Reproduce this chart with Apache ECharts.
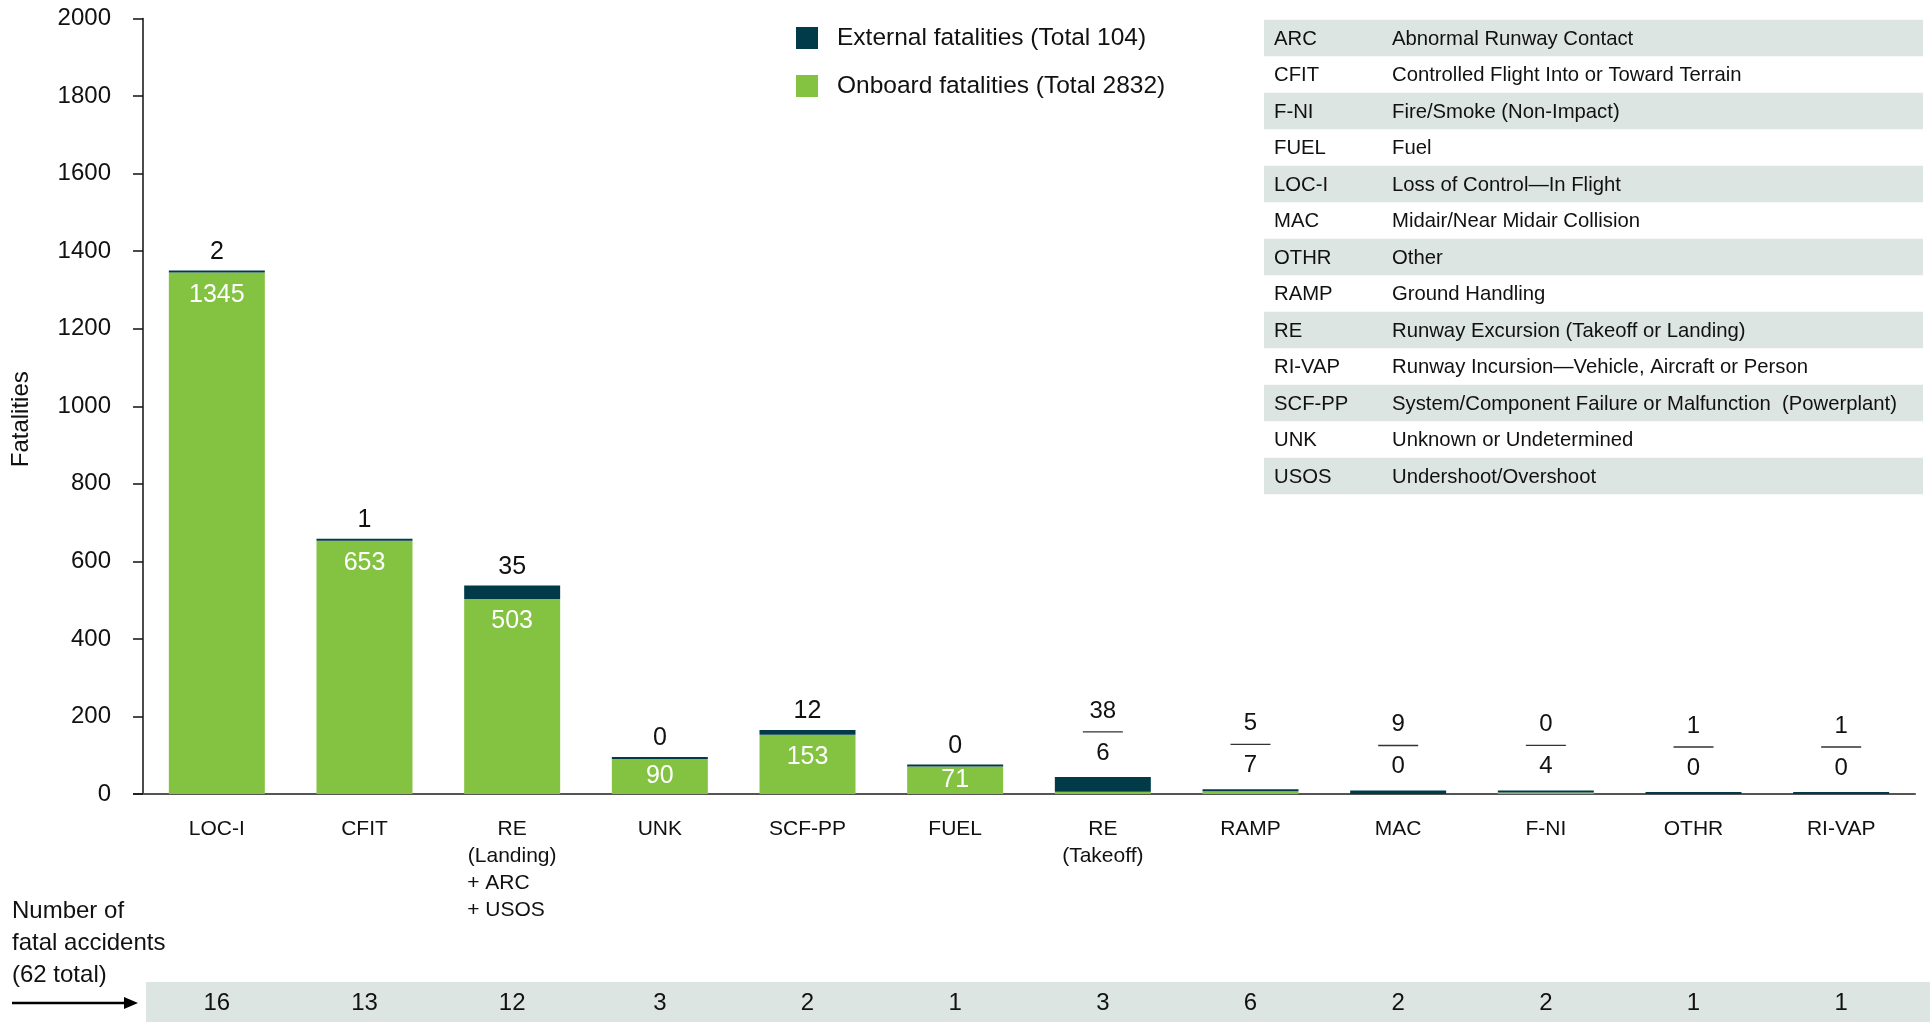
<!DOCTYPE html>
<html>
<head>
<meta charset="utf-8">
<script src="https://cdn.jsdelivr.net/npm/echarts@6/dist/echarts.min.js"></script>
<style>
  html, body { margin: 0; padding: 0; background: #fff; }
  #chart { width: 1930px; height: 1022px; }
</style>
</head>
<body>
<div id="chart"></div>
<script>
// Data
const categories = ['LOC-I', 'CFIT', 'RE\n(Landing)\n+ ARC\n+ USOS', 'UNK', 'SCF-PP', 'FUEL',
  'RE\n(Takeoff)', 'RAMP', 'MAC', 'F-NI', 'OTHR', 'RI-VAP'];
const onboard = [1345, 653, 503, 90, 153, 71, 6, 7, 0, 4, 0, 0];
const external = [2, 1, 35, 0, 12, 0, 38, 5, 9, 0, 1, 1];
const accidents = [16, 13, 12, 3, 2, 1, 3, 6, 2, 2, 1, 1];
const yTicks = [0, 200, 400, 600, 800, 1000, 1200, 1400, 1600, 1800, 2000];

const codes = ['ARC', 'CFIT', 'F-NI', 'FUEL', 'LOC-I', 'MAC', 'OTHR', 'RAMP', 'RE', 'RI-VAP', 'SCF-PP', 'UNK', 'USOS'];
const descriptions = ['Abnormal Runway Contact', 'Controlled Flight Into or Toward Terrain',
  'Fire/Smoke (Non-Impact)', 'Fuel', 'Loss of Control\u2014In Flight', 'Midair/Near Midair Collision',
  'Other', 'Ground Handling', 'Runway Excursion (Takeoff or Landing)',
  'Runway Incursion\u2014Vehicle, Aircraft or Person',
  'System/Component Failure or Malfunction  (Powerplant)', 'Unknown or Undetermined',
  'Undershoot/Overshoot'];

const FONT = '"Liberation Sans", Arial, sans-serif';
const GREEN = '#84c341';
const DARK = '#013b4a';
const SHADE = '#dde5e3';

const sum = a => a.reduce((s, v) => s + v, 0);
const extName = 'External fatalities (Total ' + sum(external) + ')';
const onName = 'Onboard fatalities (Total ' + sum(onboard) + ')';

// small bars get the "external / onboard" stacked label above them
const isSmall = i => onboard[i] + external[i] < 60;

const fracRich = {
  n: { fontFamily: FONT, fontSize: 24, lineHeight: 42, color: '#111', align: 'center' },
  hr: { width: 40, height: 0, borderWidth: 1.3, borderColor: '#333' }
};

const onboardData = onboard.map((v, i) => ({
  value: v,
  label: isSmall(i) ? { show: false } : {
    show: true,
    position: v < 100 ? 'inside' : 'insideTop',
    distance: 10,
    color: '#fff',
    fontSize: 25,
    fontFamily: FONT
  }
}));

const externalData = external.map((v, i) => ({
  value: v,
  label: isSmall(i) ? {
    show: true,
    position: 'top',
    distance: 3,
    formatter: '{n|' + v + '}\n{hr|}\n{n|' + onboard[i] + '}',
    rich: fracRich
  } : {
    show: true,
    position: 'top',
    distance: 6,
    color: '#111',
    fontSize: 25,
    fontFamily: FONT,
    formatter: String(v)
  }
}));

// definitions table on the right
const tableX = 1264, tableY = 19.7, tableW = 659, rowH = 36.5;
const tableGraphics = [];
codes.forEach((c, i) => {
  const y = tableY + i * rowH;
  if (i % 2 === 0) {
    tableGraphics.push({ type: 'rect', shape: { x: tableX, y: y, width: tableW, height: rowH },
      style: { fill: SHADE }, silent: true });
  }
  tableGraphics.push({ type: 'text', x: tableX + 10, y: y + rowH / 2 + 1,
    style: { text: c, font: '20.3px ' + FONT, fill: '#111', verticalAlign: 'middle' } });
  tableGraphics.push({ type: 'text', x: tableX + 128, y: y + rowH / 2 + 1,
    style: { text: descriptions[i], font: '20.3px ' + FONT, fill: '#111', verticalAlign: 'middle' } });
});

const myChart = echarts.init(document.getElementById('chart'));
myChart.setOption({
  animation: false,
  textStyle: { fontFamily: FONT },
  grid: { left: 143, right: 15, top: 18.5, bottom: 228, containLabel: false, outerBoundsMode: 'none' },
  legend: {
    orient: 'vertical',
    left: 796,
    top: 22,
    icon: 'rect',
    itemWidth: 22,
    itemHeight: 22,
    itemGap: 16,
    padding: 0,
    data: [extName, onName],
    textStyle: { fontSize: 24.5, color: '#111', fontFamily: FONT, lineHeight: 22, padding: [0, 0, 10, 14] }
  },
  xAxis: [{
    type: 'category',
    data: categories,
    axisLine: { lineStyle: { color: '#555', width: 2 } },
    axisTick: { show: false },
    axisLabel: {
      margin: 22,
      color: '#111',
      formatter: v => v.split('\n').map(s => (s.charAt(0) === '+' ? '{l|' + s + '}' : '{c|' + s + '}')).join('\n'),
      rich: {
        c: { fontFamily: FONT, fontSize: 21, lineHeight: 27, width: 90, align: 'center', color: '#111' },
        l: { fontFamily: FONT, fontSize: 21, lineHeight: 27, width: 90, align: 'left', color: '#111' }
      }
    }
  }, {
    type: 'category',
    position: 'bottom',
    offset: 209,
    data: accidents.map(String),
    axisLine: { show: false },
    axisTick: { show: false },
    axisLabel: { margin: 0, verticalAlign: 'middle', fontSize: 24, color: '#111', fontFamily: FONT }
  }],
  yAxis: {
    type: 'value',
    min: yTicks[0],
    max: yTicks[yTicks.length - 1],
    interval: yTicks[1] - yTicks[0],
    name: 'Fatalities',
    nameLocation: 'middle',
    nameRotate: 90,
    nameGap: 110,
    nameTextStyle: { fontSize: 24, color: '#111', fontFamily: FONT, padding: [0, 26, 0, 0] },
    axisLine: { show: true, lineStyle: { color: '#111', width: 1.5 } },
    axisTick: { show: true, length: 10, lineStyle: { color: '#111', width: 1.5 } },
    axisLabel: { fontSize: 24, color: '#111', margin: 32, fontFamily: FONT, formatter: v => String(v) },
    splitLine: { show: false }
  },
  series: [{
    name: onName,
    type: 'bar',
    stack: 'total',
    barCategoryGap: '35%',
    itemStyle: { color: GREEN },
    data: onboardData
  }, {
    name: extName,
    type: 'bar',
    stack: 'total',
    barCategoryGap: '35%',
    barMinHeight: 2,
    itemStyle: { color: DARK },
    data: externalData
  }],
  graphic: tableGraphics.concat([
    { type: 'rect', shape: { x: 146, y: 982, width: 1784, height: 40 }, style: { fill: SHADE }, z: -1, silent: true },
    { type: 'line', shape: { x1: 133, y1: 794, x2: 143, y2: 794 }, style: { stroke: '#555', lineWidth: 2 } },
    { type: 'text', x: 12, y: 895,
      style: { text: 'Number of\nfatal accidents\n(' + sum(accidents) + ' total)', font: '24px ' + FONT,
        fill: '#111', lineHeight: 32 } },
    { type: 'line', shape: { x1: 12, y1: 1003, x2: 126, y2: 1003 }, style: { stroke: '#000', lineWidth: 2.5 } },
    { type: 'polygon', shape: { points: [[124, 997], [138, 1003], [124, 1009]] }, style: { fill: '#000' } }
  ])
});
</script>
</body>
</html>
